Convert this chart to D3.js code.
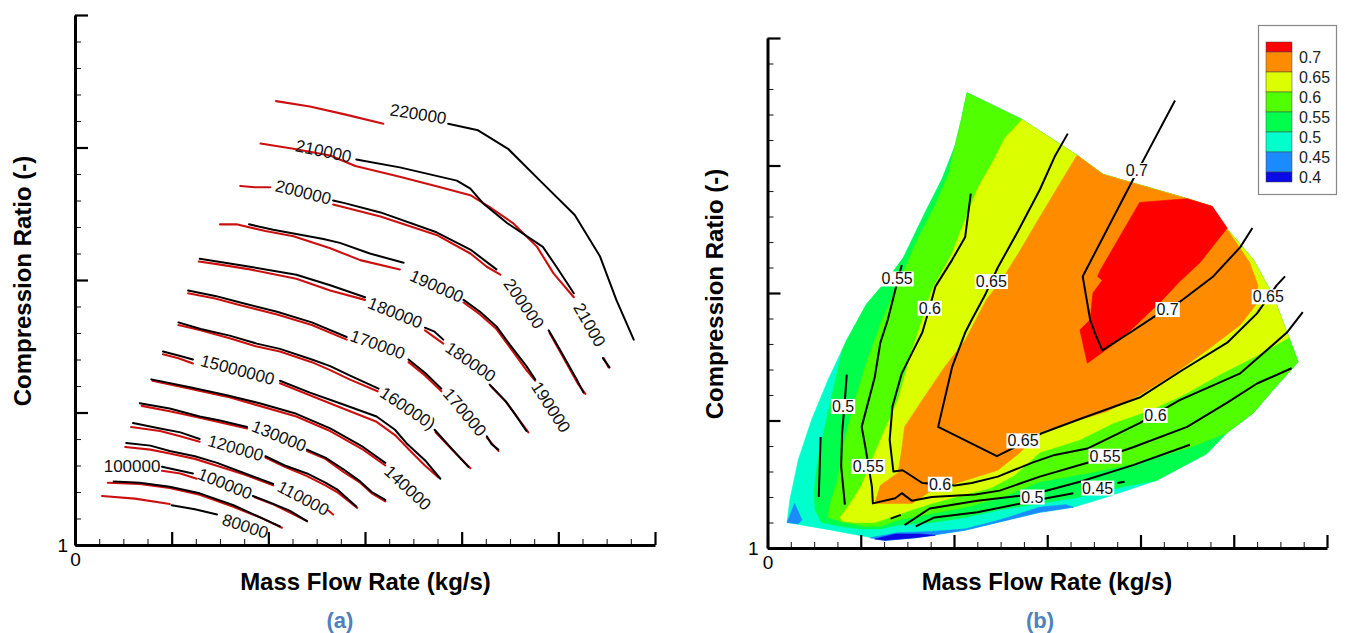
<!DOCTYPE html>
<html><head><meta charset="utf-8">
<script src="https://cdn.jsdelivr.net/npm/d3@7"></script>
<style>
body{margin:0;background:#fff}
svg{display:block}
text{font-family:"Liberation Sans",Arial,Helvetica,sans-serif}
</style></head>
<body><svg id="chart" width="1345" height="633"></svg>
<script>
// ---------------- axes (both panels share the same unlabeled scales) ----------------
const xDomain = [0, 6];
const yDomain = [1, 5];
const xMajorTicks = [0, 1, 2, 3, 4, 5, 6];
const yMajorTicks = [1, 2, 3, 4, 5];
const xTickLabels = ["0", "", "", "", "", "", ""];
const yTickLabels = ["1", "", "", "", ""];
const xTitle = "Mass Flow Rate (kg/s)";
const yTitle = "Compression Ratio (-)";
const panelTags = ["(a)", "(b)"];

// ---------------- panel (a): speed lines (red = measured, black = computed) ----------------
const measuredLines = [
  [[0.28,1.37],[0.62,1.35],[0.98,1.31]],
  [[0.34,1.47],[0.67,1.46],[0.98,1.43],[1.29,1.38],[1.63,1.29],[1.91,1.21],[2.14,1.13]],
  [[0.90,1.56],[1.09,1.54],[1.26,1.50]],
  [[1.86,1.36],[2.04,1.31],[2.24,1.24],[2.40,1.18]],
  [[0.52,1.74],[0.78,1.72],[0.98,1.69],[1.24,1.65],[1.50,1.59],[1.76,1.53],[2.05,1.45]],
  [[2.62,1.26],[2.67,1.23]],
  [[0.58,1.89],[0.88,1.86],[1.09,1.82],[1.29,1.78]],
  [[1.97,1.66],[2.17,1.59],[2.40,1.52],[2.59,1.45],[2.71,1.40],[2.92,1.28]],
  [[0.69,2.05],[0.98,2.01],[1.29,1.96],[1.78,1.88]],
  [[2.40,1.71],[2.59,1.65],[2.78,1.55],[2.95,1.47],[3.07,1.39],[3.21,1.33]],
  [[0.80,2.24],[1.19,2.18],[1.57,2.12],[1.91,2.05],[2.29,1.97],[2.64,1.86],[2.98,1.72],[3.21,1.60]],
  [[0.91,2.44],[1.07,2.41],[1.22,2.37]],
  [[2.12,2.22],[2.43,2.13],[2.74,2.04],[3.12,1.93],[3.31,1.83],[3.47,1.71],[3.62,1.60],[3.76,1.51]],
  [[1.07,2.66],[1.30,2.62],[1.60,2.56],[1.87,2.50],[2.12,2.46],[2.45,2.38],[2.64,2.32],[2.84,2.25],[3.13,2.16]],
  [[3.73,1.85],[3.90,1.72],[4.09,1.58]],
  [[1.17,2.90],[1.45,2.86],[1.71,2.81],[2.09,2.74],[2.45,2.66],[2.81,2.55]],
  [[3.45,2.38],[3.62,2.28],[3.79,2.16]],
  [[4.26,1.81],[4.38,1.71]],
  [[1.28,3.14],[1.47,3.12],[1.81,3.08],[2.29,3.01],[2.64,2.92],[3.00,2.85]],
  [[3.62,2.62],[3.81,2.52]],
  [[4.30,2.20],[4.46,2.08],[4.58,1.96],[4.69,1.85]],
  [[1.50,3.42],[1.67,3.42],[1.97,3.37],[2.26,3.33],[2.64,3.24],[2.95,3.15],[3.36,3.08]],
  [[4.02,2.83],[4.19,2.74],[4.36,2.63],[4.52,2.47],[4.67,2.32],[4.76,2.24]],
  [[1.71,3.71],[1.86,3.70],[2.02,3.70]],
  [[2.67,3.57],[3.16,3.48],[3.74,3.34],[4.09,3.20],[4.26,3.10],[4.40,3.04]],
  [[4.91,2.60],[5.04,2.43],[5.20,2.22],[5.28,2.14]],
  [[1.92,4.03],[2.26,3.99],[2.64,3.94],[2.90,3.86],[3.36,3.78],[3.78,3.70],[4.09,3.64],[4.29,3.55],[4.53,3.43],[4.78,3.25],[4.95,3.05],[5.16,2.87]],
  [[5.47,2.41],[5.52,2.34]],
  [[2.08,4.35],[2.43,4.31],[2.79,4.25],[3.19,4.18]]
];
const computedLines = [
  [[1.00,1.30],[1.24,1.27],[1.47,1.23]],
  [[0.40,1.48],[0.67,1.47],[0.98,1.44],[1.29,1.39],[1.64,1.30],[1.91,1.21],[2.12,1.14]],
  [[0.90,1.59],[1.03,1.57],[1.22,1.54]],
  [[1.84,1.37],[2.02,1.32],[2.22,1.26],[2.40,1.18]],
  [[0.53,1.77],[0.78,1.75],[0.98,1.71],[1.24,1.67],[1.47,1.62],[1.76,1.54],[2.05,1.46]],
  [[0.60,1.92],[0.88,1.88],[1.09,1.85],[1.29,1.80]],
  [[1.97,1.67],[2.17,1.60],[2.40,1.54],[2.59,1.47],[2.71,1.42],[2.91,1.29]],
  [[0.67,2.07],[0.98,2.03],[1.29,1.97],[1.50,1.94],[1.78,1.89]],
  [[2.40,1.72],[2.59,1.66],[2.78,1.57],[2.95,1.48],[3.07,1.40],[3.21,1.34]],
  [[0.79,2.25],[1.19,2.19],[1.57,2.13],[1.91,2.07],[2.29,1.99],[2.64,1.88],[2.98,1.74],[3.21,1.62]],
  [[0.91,2.46],[1.07,2.43],[1.22,2.40]],
  [[2.12,2.24],[2.43,2.15],[2.74,2.07],[3.12,1.97],[3.31,1.87],[3.44,1.76],[3.62,1.64],[3.78,1.50]],
  [[1.07,2.68],[1.30,2.63],[1.60,2.58],[1.88,2.52],[2.12,2.48],[2.45,2.40],[2.64,2.35],[2.84,2.28],[3.14,2.18]],
  [[3.72,1.87],[3.88,1.74],[4.07,1.59]],
  [[1.17,2.92],[1.45,2.88],[1.71,2.83],[2.09,2.76],[2.45,2.68],[2.81,2.57]],
  [[3.45,2.40],[3.62,2.30],[3.79,2.18]],
  [[4.26,1.82],[4.31,1.76],[4.38,1.72]],
  [[1.29,3.16],[1.47,3.14],[1.81,3.10],[2.29,3.04],[2.64,2.96],[3.00,2.87]],
  [[3.62,2.64],[3.72,2.61],[3.81,2.55]],
  [[4.29,2.21],[4.45,2.09],[4.55,1.99],[4.67,1.86]],
  [[1.80,3.42],[2.05,3.38],[2.57,3.31],[2.74,3.28],[3.05,3.20],[3.40,3.13]],
  [[4.02,2.85],[4.19,2.76],[4.36,2.65],[4.50,2.51],[4.67,2.35],[4.76,2.25]],
  [[2.67,3.60],[2.79,3.58],[3.16,3.51],[3.74,3.36],[4.09,3.23],[4.36,3.08]],
  [[4.90,2.62],[5.02,2.47],[5.19,2.25],[5.26,2.15]],
  [[2.91,3.91],[3.36,3.85],[3.95,3.75],[4.09,3.69],[4.22,3.58],[4.47,3.43],[4.84,3.25],[4.98,3.10],[5.16,2.90]],
  [[5.46,2.41],[5.53,2.34]],
  [[3.86,4.18],[4.17,4.13],[4.48,3.99],[4.81,3.75],[5.17,3.49],[5.43,3.18],[5.60,2.85],[5.78,2.55]]
];
// [text, x, y, rotation in degrees along the line]
const speedLabels = [
  ["80000",1.76,1.14,18],["100000",0.59,1.59,0],["100000",1.55,1.46,22],
  ["110000",2.36,1.35,28],["120000",1.66,1.73,16],["130000",2.11,1.82,22],
  ["140000",3.44,1.43,43],["15000000",1.68,2.32,15],["160000)",3.44,2.03,34],
  ["170000",3.13,2.51,20],["170000",4.03,2.00,50],["180000",3.31,2.75,22],
  ["180000",4.09,2.38,35],["190000",3.74,2.95,24],["190000",4.92,2.04,57],
  ["200000",2.36,3.66,14],["200000",4.64,2.82,55],["210000",2.57,3.97,12],
  ["21000",5.32,2.66,60],["220000",3.55,4.25,9]
];

// ---------------- panel (b): efficiency flood bands (nested regions) ----------------
const mapOutline = [[2.14,4.57],[2.73,4.36],[3.32,4.08],[3.60,3.93],[4.50,3.74],[4.76,3.68],[4.92,3.51],[5.21,3.26],[5.42,2.98],[5.56,2.71],[5.69,2.46],[5.42,2.24],[5.21,2.06],[4.92,1.90],[4.71,1.74],[4.17,1.53],[3.64,1.40],[3.28,1.32],[2.92,1.28],[2.12,1.14],[1.58,1.08],[1.26,1.06],[1.05,1.09],[0.69,1.14],[0.21,1.20],[0.24,1.38],[0.33,1.69],[0.47,2.00],[0.65,2.32],[0.85,2.63],[1.06,2.91],[1.28,3.10],[1.46,3.28],[1.69,3.63],[1.87,3.89],[2.01,4.15],[2.08,4.36]];
const band040 = [
  [[0.21,1.20],[0.29,1.35],[0.37,1.22],[0.33,1.19]],
  [[1.10,1.08],[1.40,1.12],[1.76,1.13],[2.12,1.15],[2.49,1.22],[2.92,1.32],[3.20,1.34],[3.28,1.32],[2.92,1.28],[2.12,1.14],[1.58,1.08],[1.26,1.06]]
];
const bandBelow040 = [[1.15,1.07],[1.37,1.11],[1.64,1.11],[1.80,1.10],[1.58,1.08],[1.26,1.06]];
const band050 = [[0.80,2.55],[0.73,2.32],[0.63,2.00],[0.54,1.69],[0.50,1.45],[0.51,1.30],[0.58,1.20],[0.78,1.17],[0.99,1.15],[1.21,1.15],[1.40,1.18],[1.76,1.20],[2.12,1.24],[2.49,1.30],[2.92,1.35],[3.35,1.40],[3.81,1.48],[4.17,1.53],[4.71,1.74],[4.92,1.90],[5.21,2.06],[5.42,2.24],[5.69,2.46],[5.56,2.71],[5.42,2.98],[5.21,3.26],[4.92,3.51],[4.76,3.68],[4.50,3.74],[3.60,3.93],[3.32,4.08],[2.73,4.36],[2.14,4.57],[2.08,4.36],[2.01,4.15],[1.87,3.89],[1.69,3.63],[1.46,3.28],[1.28,3.10],[1.06,2.91],[0.85,2.63]];
const band055 = [[2.01,4.15],[1.94,3.93],[1.80,3.69],[1.61,3.42],[1.42,3.10],[1.23,2.79],[1.07,2.47],[0.94,2.16],[0.83,1.85],[0.75,1.53],[0.67,1.34],[0.65,1.24],[0.83,1.20],[1.05,1.17],[1.21,1.17],[1.40,1.22],[1.76,1.27],[2.12,1.32],[2.49,1.39],[2.92,1.52],[3.46,1.59],[3.99,1.67],[4.53,1.79],[4.92,1.90],[5.21,2.06],[5.42,2.24],[5.69,2.46],[5.56,2.71],[5.42,2.98],[5.21,3.26],[4.92,3.51],[4.76,3.68],[4.50,3.74],[3.60,3.93],[3.32,4.08],[2.73,4.36],[2.14,4.57],[2.08,4.36]];
const band060 = [[2.73,4.36],[2.55,4.22],[2.41,4.02],[2.26,3.83],[2.09,3.52],[1.98,3.31],[1.76,3.02],[1.66,2.79],[1.55,2.55],[1.40,2.16],[1.26,1.93],[1.12,1.69],[1.01,1.49],[0.88,1.34],[0.78,1.24],[0.80,1.21],[0.94,1.20],[1.15,1.20],[1.31,1.24],[1.55,1.30],[1.76,1.35],[2.12,1.42],[2.39,1.47],[2.65,1.57],[2.92,1.75],[3.35,1.85],[3.71,1.98],[4.10,2.08],[4.46,2.20],[4.85,2.36],[5.25,2.51],[5.59,2.65],[5.56,2.71],[5.42,2.98],[5.21,3.26],[4.92,3.51],[4.76,3.68],[4.50,3.74],[3.60,3.93],[3.32,4.08]];
const band065 = [[3.32,4.08],[3.08,3.79],[2.90,3.57],[2.69,3.31],[2.51,3.10],[2.35,2.95],[2.12,2.63],[1.90,2.42],[1.66,2.16],[1.47,1.95],[1.44,1.77],[1.40,1.59],[1.21,1.49],[1.15,1.35],[1.55,1.35],[1.76,1.45],[2.12,1.53],[2.47,1.61],[2.71,1.75],[2.92,1.91],[3.28,1.99],[3.64,2.07],[3.99,2.20],[4.35,2.36],[4.71,2.55],[5.07,2.75],[5.24,2.91],[5.26,3.06],[5.17,3.24],[4.92,3.51],[4.76,3.68],[4.50,3.74],[3.60,3.93]];
const band070 = [[3.99,3.71],[4.50,3.74],[4.77,3.68],[4.93,3.51],[4.64,3.24],[4.42,3.09],[4.24,2.95],[3.81,2.65],[3.43,2.45],[3.35,2.71],[3.46,2.79],[3.49,3.00],[3.59,3.10],[3.54,3.13],[3.57,3.18]];

// iso-efficiency lines
const contourLines = [
  [[4.37,4.51],[4.03,4.04],[3.92,3.89],[3.38,3.13],[3.46,2.79],[3.51,2.69],[3.59,2.55],[3.89,2.69],[4.18,2.83],[4.42,2.93],[4.78,3.13],[5.07,3.36],[5.20,3.51]],
  [[3.22,4.25],[3.08,4.07],[2.92,3.81],[2.69,3.49],[2.47,3.20],[2.33,2.98],[2.19,2.79],[2.12,2.69],[1.98,2.42],[1.83,1.95],[2.46,1.72],[2.65,1.79],[2.94,1.90],[3.38,2.02],[3.99,2.18],[4.46,2.40],[4.93,2.61],[5.25,2.84],[5.46,3.06],[5.55,3.13]],
  [[2.18,3.78],[2.12,3.44],[1.98,3.26],[1.80,3.05],[1.74,2.89],[1.66,2.69],[1.55,2.53],[1.44,2.37],[1.34,2.11],[1.31,1.85],[1.35,1.60],[1.45,1.61],[1.66,1.51],[2.01,1.49],[2.19,1.51],[2.47,1.56],[2.84,1.67],[3.08,1.73],[3.43,1.78],[3.99,1.98],[4.42,2.16],[5.07,2.37],[5.57,2.69],[5.74,2.85]],
  [[1.44,3.22],[1.39,3.08],[1.29,2.79],[1.21,2.61],[1.15,2.34],[1.01,1.95],[1.05,1.79],[1.12,1.48],[1.13,1.35],[1.37,1.39],[1.44,1.43],[1.55,1.37],[1.76,1.40],[2.23,1.42],[2.49,1.45],[2.92,1.56],[3.44,1.67],[3.92,1.79],[4.50,1.95],[4.93,2.14],[5.25,2.29],[5.62,2.41]],
  [[0.85,2.36],[0.83,2.16],[0.80,1.90],[0.79,1.64],[0.83,1.34]],
  [[1.47,1.18],[1.74,1.31],[2.25,1.37],[2.84,1.42],[3.35,1.52],[3.92,1.65],[4.53,1.81]],
  [[0.57,1.87],[0.55,1.40]],
  [[1.59,1.17],[1.79,1.24],[2.25,1.28],[2.92,1.38],[3.28,1.43]],
  [[3.75,1.51],[3.83,1.52]],
  [[1.32,1.23],[1.43,1.26]]
];
const contourLabels = [
  ["0.7",3.96,3.96],["0.7",4.29,2.87],["0.65",2.40,3.09],["0.65",2.74,1.84],["0.65",5.37,2.97],
  ["0.6",1.74,2.88],["0.6",1.85,1.50],["0.6",4.16,2.04],["0.55",1.39,3.11],["0.55",1.08,1.64],
  ["0.55",3.62,1.72],["0.5",0.81,2.11],["0.5",2.84,1.40],["0.45",3.54,1.47]
];
const legendLevels = ["0.7","0.65","0.6","0.55","0.5","0.45","0.4"];
// colours, high to low
const bandColors = ["#ff0000","#ff8c00","#dcff00","#50ff00","#00ff4c","#00ffcc","#1a8cff","#0a0ae6"];

// ---------------- drawing ----------------
const svg = d3.select("#chart");
const FONT = '"Liberation Sans",Arial,Helvetica,sans-serif';
const isInt = v => Math.abs(v - Math.round(v)) < 1e-6;
const xMinorTicks = d3.range(0, 6.0001, 0.25).filter(v => !isInt(v));
const yMinorTicks = d3.range(1, 5.0001, 0.2).filter(v => !isInt(v));

const xL = d3.scaleLinear().domain(xDomain).range([75, 655]);
const yL = d3.scaleLinear().domain(yDomain).range([545, 15]);
const xR = d3.scaleLinear().domain(xDomain).range([767.5, 1327]);
const yR = d3.scaleLinear().domain(yDomain).range([548, 38]);

function drawAxes(x, y, xPad, yPad) {
  const g = svg.append("g");
  const y0 = y.range()[0], x0 = x.range()[0];
  const style = s => {
    s.selectAll("text").attr("font-size", 19).attr("font-family", FONT).attr("fill", "#000");
    s.selectAll(".tick line").attr("stroke", "#000");
  };
  g.append("g").attr("transform", `translate(0,${y0})`)
    .call(d3.axisBottom(x).tickValues(xMinorTicks).tickSize(-6).tickSizeOuter(0).tickFormat(""))
    .call(s => { s.select(".domain").remove(); s.selectAll("line").attr("stroke", "#222").attr("stroke-width", 1.1); });
  g.append("g").attr("transform", `translate(${x0},0)`)
    .call(d3.axisLeft(y).tickValues(yMinorTicks).tickSize(-6).tickSizeOuter(0).tickFormat(""))
    .call(s => { s.select(".domain").remove(); s.selectAll("line").attr("stroke", "#222").attr("stroke-width", 1.1); });
  g.append("g").attr("transform", `translate(0,${y0})`)
    .call(d3.axisBottom(x).tickValues(xMajorTicks).tickSize(-13).tickSizeOuter(0).tickPadding(xPad)
      .tickFormat(d => xTickLabels[xMajorTicks.indexOf(d)]))
    .call(style)
    .call(s => { s.select(".domain").attr("stroke-width", 3); s.selectAll(".tick line").attr("stroke-width", 2.2); });
  g.append("g").attr("transform", `translate(${x0},0)`)
    .call(d3.axisLeft(y).tickValues(yMajorTicks).tickSize(-13).tickSizeOuter(0).tickPadding(yPad)
      .tickFormat(d => yTickLabels[yMajorTicks.indexOf(d)]))
    .call(style)
    .call(s => { s.select(".domain").attr("stroke-width", 3); s.selectAll(".tick line").attr("stroke-width", 2.2); });
}

// ---- panel (a)
const lineL = d3.line().x(d => xL(d[0])).y(d => yL(d[1]));
const gA = svg.append("g");
gA.selectAll("path.meas").data(measuredLines).join("path").attr("class", "meas")
  .attr("d", lineL).attr("fill", "none").attr("stroke", "#cc1010").attr("stroke-width", 2.1)
  .attr("stroke-linejoin", "round").attr("stroke-linecap", "round");
gA.selectAll("path.comp").data(computedLines).join("path").attr("class", "comp")
  .attr("d", lineL).attr("fill", "none").attr("stroke", "#000").attr("stroke-width", 2)
  .attr("stroke-linejoin", "round").attr("stroke-linecap", "round");
gA.selectAll("text.spd").data(speedLabels).join("text").attr("class", "spd")
  .attr("transform", d => `translate(${xL(d[1])},${yL(d[2])}) rotate(${d[3]})`)
  .attr("text-anchor", "middle").attr("dominant-baseline", "central")
  .attr("font-size", 17).attr("fill", "#111").text(d => d[0]);
drawAxes(xL, yL, 8, 7);

// ---- panel (b)
const lineR = d3.line().x(d => xR(d[0])).y(d => yR(d[1]));
const polyR = d3.line().x(d => xR(d[0])).y(d => yR(d[1])).curve(d3.curveLinearClosed);
const gB = svg.append("g");
const fills = [
  [mapOutline, bandColors[5]],
  ...band040.map(p => [p, bandColors[6]]),
  [bandBelow040, bandColors[7]],
  [band050, bandColors[4]],
  [band055, bandColors[3]],
  [band060, bandColors[2]],
  [band065, bandColors[1]],
  [band070, bandColors[0]]
];
gB.selectAll("path.band").data(fills).join("path").attr("class", "band")
  .attr("d", d => polyR(d[0])).attr("fill", d => d[1]).attr("stroke", d => d[1]).attr("stroke-width", 0.6);
gB.selectAll("path.iso").data(contourLines).join("path").attr("class", "iso")
  .attr("d", lineR).attr("fill", "none").attr("stroke", "#000").attr("stroke-width", 2)
  .attr("stroke-linejoin", "round");
const lab = gB.selectAll("g.clab").data(contourLabels).join("g").attr("class", "clab")
  .attr("transform", d => `translate(${xR(d[1])},${yR(d[2])})`);
lab.append("text").attr("text-anchor", "middle").attr("dominant-baseline", "central")
  .attr("font-size", 16).attr("fill", "#111").text(d => d[0]);
lab.each(function() {
  const t = d3.select(this).select("text");
  const b = t.node().getBBox();
  d3.select(this).insert("rect", "text").attr("x", b.x - 1).attr("y", b.y + 1)
    .attr("width", b.width + 2).attr("height", b.height - 2).attr("fill", "#fff");
});
drawAxes(xR, yR, 8, 9);

// legend
const lg = svg.append("g");
lg.append("rect").attr("x", 1258.5).attr("y", 25.5).attr("width", 78).attr("height", 169)
  .attr("fill", "#fff").attr("stroke", "#888").attr("stroke-width", 1.2);
const swTop = 42, swH = 20;
bandColors.forEach((c, i) => {
  const y0 = i === 0 ? swTop : swTop + 10 + (i - 1) * swH;
  const h = (i === 0 || i === bandColors.length - 1) ? 10 : swH;
  lg.append("rect").attr("x", 1266).attr("y", y0).attr("width", 26).attr("height", h)
    .attr("fill", c).attr("stroke", "#444").attr("stroke-width", 0.5);
});
legendLevels.forEach((t, i) => {
  lg.append("text").attr("x", 1299).attr("y", swTop + 10 + i * swH + 5)
    .attr("dominant-baseline", "central").attr("font-size", 16).attr("fill", "#222").text(t);
});

// titles
function titles(cx, bx, by) {
  svg.append("text").attr("x", cx).attr("y", 590).attr("text-anchor", "middle")
    .attr("font-size", 24).attr("font-weight", "bold").attr("fill", "#000").text(xTitle);
  svg.append("text").attr("transform", `translate(${bx},${by}) rotate(-90)`).attr("text-anchor", "middle")
    .attr("font-size", 24).attr("font-weight", "bold").attr("fill", "#000").text(yTitle);
}
titles(365.5, 31, 281);
titles(1047, 723, 294);
svg.append("text").attr("x", 340).attr("y", 628).attr("text-anchor", "middle")
  .attr("font-size", 22).attr("font-weight", "bold").attr("fill", "#4f81bd").text(panelTags[0]);
svg.append("text").attr("x", 1040).attr("y", 628).attr("text-anchor", "middle")
  .attr("font-size", 22).attr("font-weight", "bold").attr("fill", "#4f81bd").text(panelTags[1]);
</script></body></html>
